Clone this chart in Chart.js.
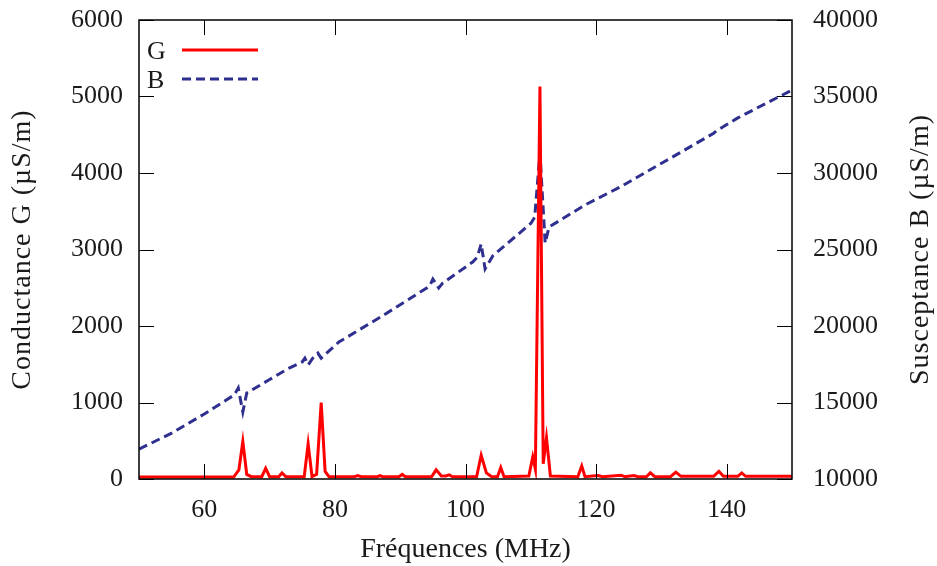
<!DOCTYPE html>
<html>
<head>
<meta charset="utf-8">
<script src="https://cdn.jsdelivr.net/npm/chart.js@4/dist/chart.umd.min.js"></script>
<style>
html,body{margin:0;padding:0;background:#fff;}
#wrap{width:937px;height:566px;}
</style>
</head>
<body>
<div id="wrap"><canvas id="c" width="937" height="566"></canvas></div>
<script>
// ---- data ----
const freqG = [50,64.5,65.3,65.9,66.5,67.2,68.8,69.4,70.0,71.4,71.9,72.5,75.3,75.9,76.5,77.2,77.9,78.5,79.1,
  83,83.5,84,86.5,86.9,87.3,89.8,90.3,90.8,94.8,95.5,96.3,97,97.5,98,101.7,102.4,103.2,104,104.9,105.4,105.9,
  109.7,110.3,110.7,111.4,111.9,112.4,113.0,117.2,117.8,118.3,120.3,121,123.8,124.4,125.8,126.4,127.7,128.3,129,
  131.4,132.2,133,138,138.8,139.5,141.7,142.3,142.9,150];
const valG = [25,25,120,490,60,30,30,140,30,30,80,30,30,460,30,60,1000,100,30,
  30,45,30,30,45,30,30,60,30,30,120,40,40,55,30,30,310,80,30,30,150,30,
  40,290,130,5130,200,540,40,30,170,30,45,30,50,30,45,30,30,80,30,
  30,90,35,35,100,35,35,80,35,35];
const freqB = [50,55,60,64.6,65.2,65.9,66.5,70,73,75.0,75.4,75.9,76.6,77.4,77.9,80.6,87,94.5,95.0,95.9,96.5,
  101.1,101.8,102.4,103.0,104.2,110.0,110.6,111.4,112.2,112.8,118.3,123.7,130.9,138.0,138.4,141.7,150];
const valB = [11950,13000,14250,15500,15950,14380,15620,16500,17250,17650,17900,17450,17900,18230,17900,18950,20590,22600,23070,22480,22800,
  24180,24500,25360,23730,24600,26700,27120,31300,25420,26470,27910,29090,30850,32600,32750,33600,35420];
const xTicks = [60,80,100,120,140];
const gTicks = [0,1000,2000,3000,4000,5000,6000];
const bTicks = [10000,15000,20000,25000,30000,35000,40000];
const labels = {x:'Fréquences (MHz)', g:'Conductance G (µS/m)', b:'Susceptance B (µS/m)', sG:'G', sB:'B'};

const FONT = "'Liberation Serif', 'DejaVu Serif', serif";
const RED = '#ff0000', BLUE = '#2e2f8e', TXT = '#1a1a1a';

const framePlugin = {
  id: 'frame',
  afterDatasetsDraw(chart) {
    const {ctx, chartArea: a, scales} = chart;
    ctx.save();
    // inward ticks
    ctx.strokeStyle = '#000'; ctx.lineWidth = 1;
    const L = 15;
    ctx.beginPath();
    scales.x.ticks.forEach(t => {
      const px = Math.round(scales.x.getPixelForValue(t.value)) + 0.5;
      ctx.moveTo(px, a.bottom); ctx.lineTo(px, a.bottom - L);
      ctx.moveTo(px, a.top); ctx.lineTo(px, a.top + L);
    });
    scales.y.ticks.forEach(t => {
      const py = Math.round(scales.y.getPixelForValue(t.value)) + 0.5;
      ctx.moveTo(a.left, py); ctx.lineTo(a.left + L, py);
    });
    scales.y2.ticks.forEach(t => {
      const py = Math.round(scales.y2.getPixelForValue(t.value)) + 0.5;
      ctx.moveTo(a.right, py); ctx.lineTo(a.right - L, py);
    });
    ctx.stroke();
    // frame
    ctx.lineWidth = 1.5;
    ctx.strokeRect(a.left, a.top, a.right - a.left, a.bottom - a.top);
    // legend
    ctx.font = '26px ' + FONT;
    ctx.fillStyle = TXT;
    ctx.textAlign = 'left'; ctx.textBaseline = 'middle';
    const ds = chart.data.datasets;
    const rows = [{y: 51, d: ds[0]}, {y: 80, d: ds[1]}];
    rows.forEach(r => {
      ctx.fillText(r.d.label, 147, r.y + 1);
      ctx.strokeStyle = r.d.borderColor; ctx.lineWidth = 3;
      ctx.setLineDash(r.d.borderDash || []);
      ctx.beginPath(); ctx.moveTo(182, r.y - 1); ctx.lineTo(258, r.y - 1); ctx.stroke();
      ctx.setLineDash([]);
    });
    // vertical titles
    ctx.fillStyle = TXT;
    ctx.font = '28px ' + FONT;
    try { ctx.letterSpacing = '1px'; } catch (e) {}
    ctx.textAlign = 'center'; ctx.textBaseline = 'middle';
    const cy = (a.top + a.bottom) / 2;
    ctx.save(); ctx.translate(23, cy); ctx.rotate(-Math.PI/2); ctx.fillText(labels.g, 0, 0); ctx.restore();
    ctx.save(); ctx.translate(921, cy); ctx.rotate(-Math.PI/2); ctx.fillText(labels.b, 0, 0); ctx.restore();
    ctx.restore();
  }
};

const pts = (xs, ys) => xs.map((x, i) => ({x, y: ys[i]}));
const plain = v => String(v);
const tickFont = {family: FONT, size: 26, lineHeight: 1};
const fitY = w => s => { s.width = w; s.paddingTop = 0; s.paddingBottom = 0; };

new Chart(document.getElementById('c'), {
  type: 'scatter',
  data: {
    datasets: [
      {label: labels.sG, data: pts(freqG, valG), yAxisID: 'y', showLine: true, borderColor: RED, backgroundColor: RED,
       borderWidth: 3, pointRadius: 0, tension: 0, order: 1},
      {label: labels.sB, data: pts(freqB, valB), yAxisID: 'y2', showLine: true, borderColor: BLUE, backgroundColor: BLUE,
       borderWidth: 3, borderDash: [9,5], pointRadius: 0, tension: 0, order: 2}
    ]
  },
  options: {
    responsive: false, animation: false,
    layout: {padding: {top: 20, left: 0, right: 0, bottom: 0}},
    plugins: {legend: {display: false}, tooltip: {enabled: false}},
    scales: {
      x: {type: 'linear', min: 50, max: 150, position: 'bottom',
          afterBuildTicks: s => { s.ticks = xTicks.map(v => ({value: v})); },
          afterFit: s => { s.height = 87; s.paddingLeft = 0; s.paddingRight = 0; },
          grid: {display: false, drawTicks: false}, border: {display: false},
          ticks: {color: TXT, font: tickFont, padding: 18, maxRotation: 0, callback: plain},
          title: {display: true, text: labels.x, color: TXT, font: {family: FONT, size: 28, lineHeight: 1}, padding: {bottom: 2, top: 0}}},
      y: {type: 'linear', min: 0, max: 6000, position: 'left',
          afterBuildTicks: s => { s.ticks = gTicks.map(v => ({value: v})); },
          afterFit: fitY(139),
          grid: {display: false, drawTicks: false}, border: {display: false},
          ticks: {color: TXT, font: tickFont, padding: 16, callback: plain}},
      y2: {type: 'linear', min: 10000, max: 40000, position: 'right',
          afterBuildTicks: s => { s.ticks = bTicks.map(v => ({value: v})); },
          afterFit: fitY(145),
          grid: {display: false, drawTicks: false}, border: {display: false},
          ticks: {color: TXT, font: tickFont, padding: 21, callback: plain}}
    }
  },
  plugins: [framePlugin]
});
</script>
</body>
</html>
